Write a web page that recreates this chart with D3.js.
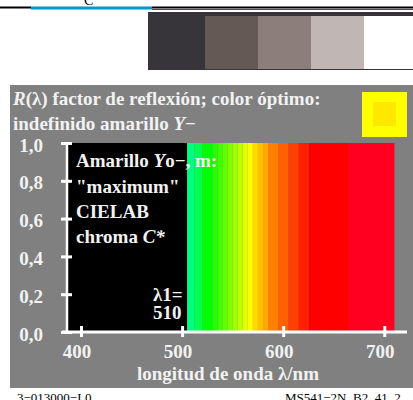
<!DOCTYPE html>
<html>
<head>
<meta charset="utf-8">
<script src="https://cdn.jsdelivr.net/npm/d3@7"></script>
<style>
  body { margin: 0; background: #fff; }
  svg { display: block; }
  text { font-family: "Liberation Serif", "Times New Roman", serif; }
</style>
</head>
<body>
<div id="chart"></div>
<script>
// spectral bands with R = 1 (nm start, nm end, colour)
var bandStart = [505, 512, 520, 530, 535, 540, 545, 550, 555, 560, 565, 570, 575, 580, 585, 595, 605, 615, 625, 665];
var bandEnd   = [512, 520, 530, 535, 540, 545, 550, 555, 560, 565, 570, 575, 580, 585, 595, 605, 615, 625, 665, 710];
var bandColor = ["#00ff80", "#00ff50", "#00ff00", "#20ff00", "#40ff00", "#60ff00", "#80ff00", "#a0ff00",
                 "#c0ff00", "#e0ff00", "#ffff00", "#ffd800", "#ffc000", "#ffa800", "#ff8000", "#ff6000",
                 "#ff4000", "#ff2000", "#ff0000", "#ff0020"];
var reflect   = [1, 1, 1, 1, 1, 1, 1, 1, 1, 1, 1, 1, 1, 1, 1, 1, 1, 1, 1, 1];

var xTicks = [400, 500, 600, 700];
var yTicks = [0, 0.2, 0.4, 0.6, 0.8, 1.0];
var yTickLabels = ["0,0", "0,2", "0,4", "0,6", "0,8", "1,0"];

// grey steps of the top strip
var stripColor = ["#655955", "#8c7f7b", "#c0b6b3", "#ffffff"];

var width = 413, height = 400;
var svg = d3.select("#chart").append("svg")
    .attr("width", width).attr("height", height);

// top rules
svg.append("line").attr("x1", 0).attr("x2", 31).attr("y1", 7.5).attr("y2", 7.5)
    .attr("stroke", "#000").attr("stroke-width", 2);
svg.append("line").attr("x1", 152).attr("x2", 413).attr("y1", 7.5).attr("y2", 7.5)
    .attr("stroke", "#000").attr("stroke-width", 2);
svg.append("line").attr("x1", 152).attr("x2", 413).attr("y1", 9.5).attr("y2", 9.5)
    .attr("stroke", "#000").attr("stroke-width", 0.7);
svg.append("line").attr("x1", 31).attr("x2", 152).attr("y1", 8).attr("y2", 8)
    .attr("stroke", "#0099cc").attr("stroke-width", 3);
svg.append("text").attr("x", 84).attr("y", 5).attr("font-size", 14)
    .attr("fill", "#000").text("C");

// grey strip
svg.append("rect").attr("x", 148).attr("y", 12).attr("width", 265).attr("height", 58)
    .attr("fill", "#37353a");
svg.selectAll("rect.step").data(stripColor).enter().append("rect")
    .attr("class", "step")
    .attr("x", function(d, i) { return 205 + i * 53; })
    .attr("y", 16)
    .attr("width", function(d, i) { return i == 3 ? 413 - 364 : 53; })
    .attr("height", 53)
    .attr("fill", function(d) { return d; });

// grey panel
svg.append("rect").attr("x", 10).attr("y", 85).attr("width", 403).attr("height", 303)
    .attr("fill", "#808080");

var fg = "#f2f2f2";
var fs = 19;

// title
var t1 = svg.append("text").attr("x", 13).attr("y", 105).attr("font-size", fs)
    .attr("font-weight", "bold").attr("fill", fg);
t1.append("tspan").attr("font-style", "italic").text("R");
t1.append("tspan").text("(λ) factor de reflexión; color óptimo:");
var t2 = svg.append("text").attr("x", 13).attr("y", 130).attr("font-size", fs)
    .attr("font-weight", "bold").attr("fill", fg);
t2.append("tspan").text("indefinido amarillo ");
t2.append("tspan").attr("font-style", "italic").text("Y");
t2.append("tspan").text("−");

// colour sample
svg.append("rect").attr("x", 362).attr("y", 92).attr("width", 45).attr("height", 45)
    .attr("fill", "#ffff00");
svg.append("rect").attr("x", 373).attr("y", 102).attr("width", 23).attr("height", 24)
    .attr("fill", "#ffe800");

// scales
var x = d3.scaleLinear().domain([400, 700]).range([81, 384.3]);
var y = d3.scaleLinear().domain([0, 1]).range([332, 143]);

// black region (R = 0) from the axis to the first band
svg.append("rect").attr("x", 67).attr("y", y(1))
    .attr("width", x(bandStart[0]) - 67).attr("height", y(0) - y(1))
    .attr("fill", "#000");

svg.selectAll("rect.band").data(bandStart).enter().append("rect")
    .attr("class", "band")
    .attr("x", function(d) { return x(d); })
    .attr("y", function(d, i) { return y(reflect[i]); })
    .attr("width", function(d, i) { return x(bandEnd[i]) - x(d); })
    .attr("height", function(d, i) { return y(0) - y(reflect[i]); })
    .attr("fill", function(d, i) { return bandColor[i]; });

// axes
var xAxis = d3.axisBottom(x).tickValues(xTicks).tickSize(0).tickFormat("");
var gx = svg.append("g").attr("transform", "translate(0," + y(0) + ")").call(xAxis);
gx.select(".domain").remove();
gx.append("line").attr("x1", 62).attr("x2", 407).attr("y1", 0).attr("y2", 0)
    .attr("stroke", "#fff").attr("stroke-width", 3);
gx.selectAll(".tick").append("line").attr("y1", -6).attr("y2", 5)
    .attr("stroke", "#fff").attr("stroke-width", 3);
gx.selectAll(".tick").append("text")
    .attr("x", -4.5).attr("y", 26).attr("font-size", fs).attr("font-weight", "bold")
    .attr("text-anchor", "middle").attr("fill", fg)
    .text(function(d) { return d; });

var yAxis = d3.axisLeft(y).tickValues(yTicks).tickSize(0).tickFormat("");
var gy = svg.append("g").attr("transform", "translate(67,0)").call(yAxis);
gy.select(".domain").remove();
gy.append("line").attr("x1", 0).attr("x2", 0).attr("y1", y(1) - 1).attr("y2", y(0))
    .attr("stroke", "#fff").attr("stroke-width", 2.5);
gy.selectAll(".tick").append("line").attr("x1", -6).attr("x2", 5)
    .attr("stroke", "#fff").attr("stroke-width", 3);
gy.selectAll(".tick").append("text")
    .attr("x", -24).attr("y", 8).attr("font-size", fs).attr("font-weight", "bold")
    .attr("text-anchor", "end").attr("fill", fg)
    .text(function(d, i) { return yTickLabels[i]; });

svg.append("text").attr("x", 228).attr("y", 380).attr("font-size", fs)
    .attr("font-weight", "bold").attr("text-anchor", "middle").attr("fill", fg)
    .text("longitud de onda λ/nm");

// label inside the plot
var lab = svg.append("g").attr("font-size", fs).attr("font-weight", "bold").attr("fill", fg);
var l1 = lab.append("text").attr("x", 76).attr("y", 167);
l1.append("tspan").text("Amarillo ");
l1.append("tspan").attr("font-style", "italic").text("Y");
l1.append("tspan").text("o−, m:");
lab.append("text").attr("x", 76).attr("y", 193).text("\"maximum\"");
lab.append("text").attr("x", 76).attr("y", 218).text("CIELAB");
var l4 = lab.append("text").attr("x", 76).attr("y", 243);
l4.append("tspan").text("chroma ");
l4.append("tspan").attr("font-style", "italic").text("C*");
lab.append("text").attr("x", 153).attr("y", 301).text("λ1=");
lab.append("text").attr("x", 153).attr("y", 319).text("510");

// footer
svg.append("text").attr("x", 17).attr("y", 402).attr("font-size", 13).attr("fill", "#000")
    .text("3−013000−L0");
svg.append("text").attr("x", 285).attr("y", 402).attr("font-size", 13).attr("fill", "#000")
    .text("MS541−2N_B2_41_2");
</script>
</body>
</html>
